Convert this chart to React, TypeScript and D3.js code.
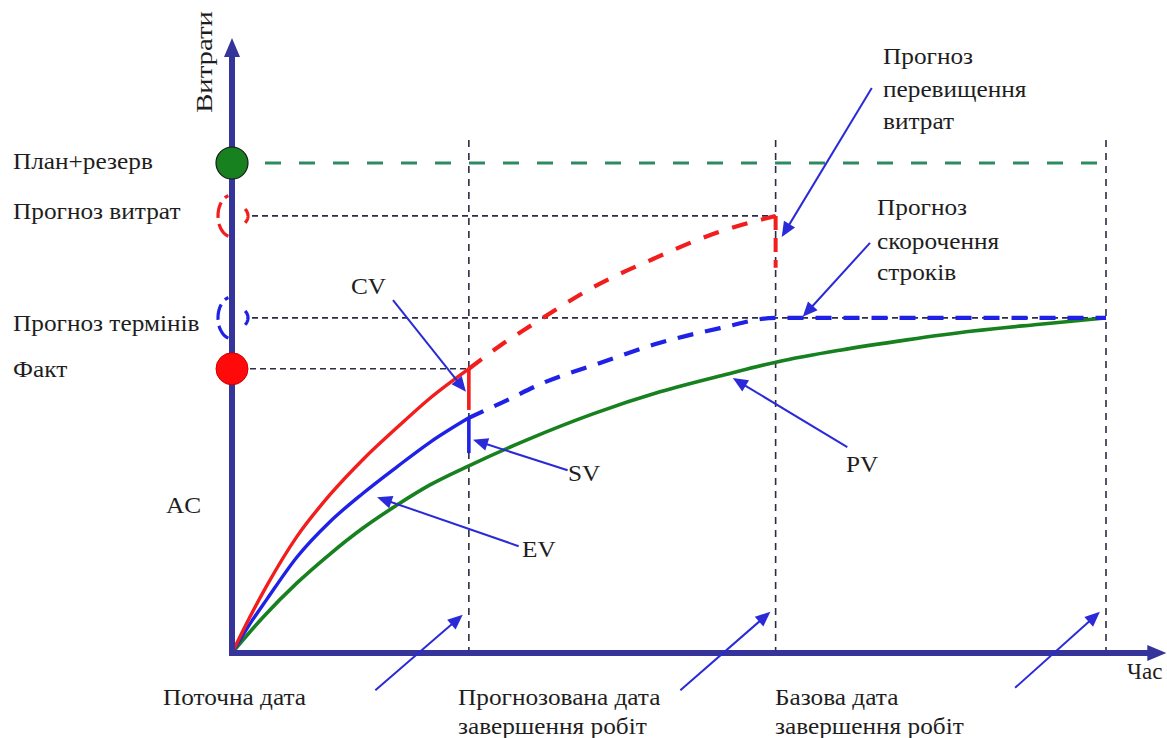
import React from 'react';
import * as d3 from 'd3';

const W = 1167;
const H = 738;

// time marks: current date, forecast completion date, baseline completion date
const milestoneT = [2.71, 6.22, 10];
// cost levels
const levelPlanReserve = 100;
const levelCostForecast = 89.2;
const levelTimeForecast = 68.4;
const levelFact = 58.0;

// AC (actual cost) — solid part up to current date
const acT = [0, 0.2, 0.4, 0.744, 1.121, 1.499, 1.888, 2.265, 2.71];
const acV = [0, 7.2, 13.8, 23.8, 32.3, 39.5, 46.0, 52.0, 58.0];
// AC forecast (dashed)
const acFcT = [2.71, 3.066, 3.444, 3.787, 4.096, 4.817, 5.503, 6.22];
const acFcV = [58.0, 62.7, 67.1, 71.0, 74.3, 80.4, 85.5, 89.2];

// EV (earned value) — solid
const evT = [0, 0.2, 0.4, 0.744, 1.121, 1.499, 1.888, 2.265, 2.71];
const evV = [0, 5.8, 11.0, 19.6, 26.8, 32.6, 38.0, 43.0, 48.0];
// EV forecast (dashed)
const evFcT = [2.71, 3.101, 3.558, 4.211, 4.897, 5.584, 6.22, 10];
const evFcV = [48.0, 51.2, 55.1, 59.2, 63.3, 66.3, 68.4, 68.4];

// PV (planned value)
const pvT = [0, 0.355, 0.744, 1.121, 1.499, 1.888, 2.265, 2.71, 3.375, 4.13, 4.897, 5.664, 6.236, 6.957, 7.723, 8.478, 9.245, 10];
const pvV = [0, 7.3, 14.3, 20.2, 25.5, 30.2, 34.3, 38.2, 43.5, 48.8, 53.3, 56.9, 59.4, 61.8, 63.9, 65.7, 67.1, 68.4];

// variance segments
const cvBottom = 49.6;
const svBottom = 40.8;
const overrunBottom = 78.6;

// annotation arrows in data units [t, v]
const arrowFrom: [number, number][] = [
  [1.842, 72.0], [3.84, 37.3], [3.28, 21.8], [7.04, 42.0],
  [7.32, 115.3], [7.30, 83.7], [1.64, -7.6], [5.13, -7.6], [8.96, -7.1],
];
const arrowTo: [number, number][] = [
  [2.677, 53.3], [2.757, 43.5], [1.66, 31.8], [5.73, 56.1],
  [6.29, 84.9], [6.53, 68.6], [2.64, 7.8], [6.16, 8.4], [9.93, 8.4],
];

const axisMaxT = 10.69;
const axisMaxV = 125.5;
const vLineTopV = 104.7;

const AXIS = '#34349a';
const RED = '#f21d1d';
const BLUE = '#1f22e6';
const GREEN = '#17801f';
const TEAL = '#2f8a62';
const DARK = '#2c2c44';
const ARROW = '#2a2ad8';
const FONT = '"Liberation Serif", "Times New Roman", serif';

function zip(t: number[], v: number[]): [number, number][] {
  return t.map((tt, i) => [tt, v[i]]);
}

function Arrow({ x1, y1, x2, y2 }: { x1: number; y1: number; x2: number; y2: number }) {
  const ang = Math.atan2(y2 - y1, x2 - x1);
  const L = 15;
  const hw = 6.5;
  const bx = x2 - L * Math.cos(ang);
  const by = y2 - L * Math.sin(ang);
  const px = -Math.sin(ang) * hw;
  const py = Math.cos(ang) * hw;
  return (
    <g>
      <line x1={x1} y1={y1} x2={bx + Math.cos(ang) * 2} y2={by + Math.sin(ang) * 2} stroke={ARROW} strokeWidth={2} />
      <polygon points={`${x2},${y2} ${bx + px},${by + py} ${bx - px},${by - py}`} fill={ARROW} />
    </g>
  );
}

function Label({ x, y, text, sx = 1.1 }: { x: number; y: number; text: string; sx?: number }) {
  return (
    <text
      transform={`translate(${x},${y}) scale(${sx},1)`}
      fontFamily={FONT}
      fontSize={23}
      fill="#1e1e1e"
    >
      {text}
    </text>
  );
}

function ellipseArc(cx: number, cy: number, rx: number, ry: number, a0: number, a1: number) {
  const pts: [number, number][] = d3.range(0, 31).map((i) => {
    const a = ((a0 + ((a1 - a0) * i) / 30) * Math.PI) / 180;
    return [cx + rx * Math.cos(a), cy + ry * Math.sin(a)];
  });
  return d3.line()(pts) as string;
}

export default function App() {
  const x = d3.scaleLinear().domain([0, 10]).range([232, 1106]);
  const y = d3.scaleLinear().domain([0, 100]).range([653, 163]);
  const line = d3
    .line<[number, number]>()
    .x((d) => x(d[0]))
    .y((d) => y(d[1]))
    .curve(d3.curveMonotoneX);

  const x0 = x(0);
  const y0 = y(0);

  const braces = (lv: number, color: string) => (
    <g fill="none" stroke={color} strokeWidth={3.2}>
      <path d={ellipseArc(x0, y(lv), 14, 21, 105, 255)} strokeDasharray="16 6" />
      <path d={ellipseArc(x0, y(lv), 16, 12, -35, 35)} />
    </g>
  );

  return (
    <svg width={W} height={H} style={{ position: 'absolute', left: 0, top: 0, background: '#fff' }}>
      <rect width={W} height={H} fill="#fff" />

      {/* vertical milestone lines */}
      {milestoneT.map((t, i) => (
        <line key={i} x1={x(t)} x2={x(t)} y1={y(vLineTopV)} y2={y0} stroke={DARK} strokeWidth={1.6} strokeDasharray="7 6" />
      ))}

      {/* horizontal reference lines */}
      <line x1={x0 + 33} x2={x(9.93)} y1={y(levelPlanReserve)} y2={y(levelPlanReserve)} stroke={TEAL} strokeWidth={3.2} strokeDasharray="16 18" />
      <line x1={x0 + 20} x2={x(milestoneT[1])} y1={y(levelCostForecast)} y2={y(levelCostForecast)} stroke={DARK} strokeWidth={1.6} strokeDasharray="6 4" />
      <line x1={x0 + 20} x2={x(milestoneT[2])} y1={y(levelTimeForecast)} y2={y(levelTimeForecast)} stroke={DARK} strokeWidth={1.6} strokeDasharray="6 4" />
      <line x1={x0 + 18} x2={x(milestoneT[0])} y1={y(levelFact)} y2={y(levelFact)} stroke={DARK} strokeWidth={1.6} strokeDasharray="6 4" />

      {/* curves */}
      <path d={line(zip(pvT, pvV)) as string} fill="none" stroke={GREEN} strokeWidth={3.6} />
      <path d={line(zip(evFcT, evFcV)) as string} fill="none" stroke={BLUE} strokeWidth={4.2} strokeDasharray="16 12" />
      <path d={line(zip(acFcT, acFcV)) as string} fill="none" stroke={RED} strokeWidth={4.2} strokeDasharray="16 14" />
      <path d={line(zip(evT, evV)) as string} fill="none" stroke={BLUE} strokeWidth={3.4} />
      <path d={line(zip(acT, acV)) as string} fill="none" stroke={RED} strokeWidth={3.4} />

      {/* variances */}
      <line x1={x(milestoneT[0])} x2={x(milestoneT[0])} y1={y(levelFact)} y2={y(cvBottom)} stroke={RED} strokeWidth={3.6} />
      <line x1={x(milestoneT[0])} x2={x(milestoneT[0])} y1={y(evV[evV.length - 1])} y2={y(svBottom)} stroke={BLUE} strokeWidth={3.6} />
      <line x1={x(milestoneT[1])} x2={x(milestoneT[1])} y1={y(levelCostForecast)} y2={y(overrunBottom)} stroke={RED} strokeWidth={4} strokeDasharray="14 8" />

      {/* axes */}
      <line x1={x0} x2={x0} y1={y0 + 3} y2={y(axisMaxV) + 14} stroke={AXIS} strokeWidth={6} />
      <polygon points={`${x0},${y(axisMaxV)} ${x0 - 8},${y(axisMaxV) + 19} ${x0 + 8},${y(axisMaxV) + 19}`} fill={AXIS} />
      <line x1={x0 - 3} x2={x(axisMaxT) - 14} y1={y0} y2={y0} stroke={AXIS} strokeWidth={6} />
      <polygon points={`${x(axisMaxT)},${y0} ${x(axisMaxT) - 19},${y0 - 8} ${x(axisMaxT) - 19},${y0 + 8}`} fill={AXIS} />

      {/* braces and markers on cost axis */}
      {braces(levelCostForecast, RED)}
      {braces(levelTimeForecast, BLUE)}
      <circle cx={x0} cy={y(levelPlanReserve)} r={16} fill={GREEN} stroke="#1a1a1a" strokeWidth={1.2} />
      <circle cx={x0} cy={y(levelFact)} r={16} fill="#ff0a0a" stroke="#cc0000" strokeWidth={1} />

      {/* arrows */}
      {arrowFrom.map((f, i) => (
        <Arrow key={i} x1={x(f[0])} y1={y(f[1])} x2={x(arrowTo[i][0])} y2={y(arrowTo[i][1])} />
      ))}

      {/* texts */}
      <text
        transform={`translate(212,62) rotate(-90) scale(1.25,1)`}
        textAnchor="middle"
        fontFamily={FONT}
        fontSize={23}
        fill="#1e1e1e"
      >
        Витрати
      </text>
      <Label x={13} y={y(levelPlanReserve) + 6} text="План+резерв" />
      <Label x={13} y={y(levelCostForecast) + 3} text="Прогноз витрат" />
      <Label x={13} y={y(levelTimeForecast) + 13} text="Прогноз термінів" />
      <Label x={13} y={y(levelFact) + 8} text="Факт" />
      <Label x={166} y={513} text="AC" />

      <Label x={351} y={294} text="CV" />
      <Label x={568} y={481} text="SV" />
      <Label x={522} y={557} text="EV" />
      <Label x={846} y={472} text="PV" />

      <Label x={883} y={64} text="Прогноз" />
      <Label x={883} y={97} text="перевищення" />
      <Label x={883} y={129} text="витрат" />

      <Label x={877} y={215} text="Прогноз" />
      <Label x={877} y={249} text="скорочення" />
      <Label x={877} y={280} text="строків" />

      <Label x={163} y={705} text="Поточна дата" />
      <Label x={458} y={705} text="Прогнозована дата" />
      <Label x={458} y={734} text="завершення робіт" />
      <Label x={775} y={705} text="Базова дата" />
      <Label x={775} y={734} text="завершення робіт" />
      <Label x={1127} y={679} text="Час" sx={1.0} />
    </svg>
  );
}
